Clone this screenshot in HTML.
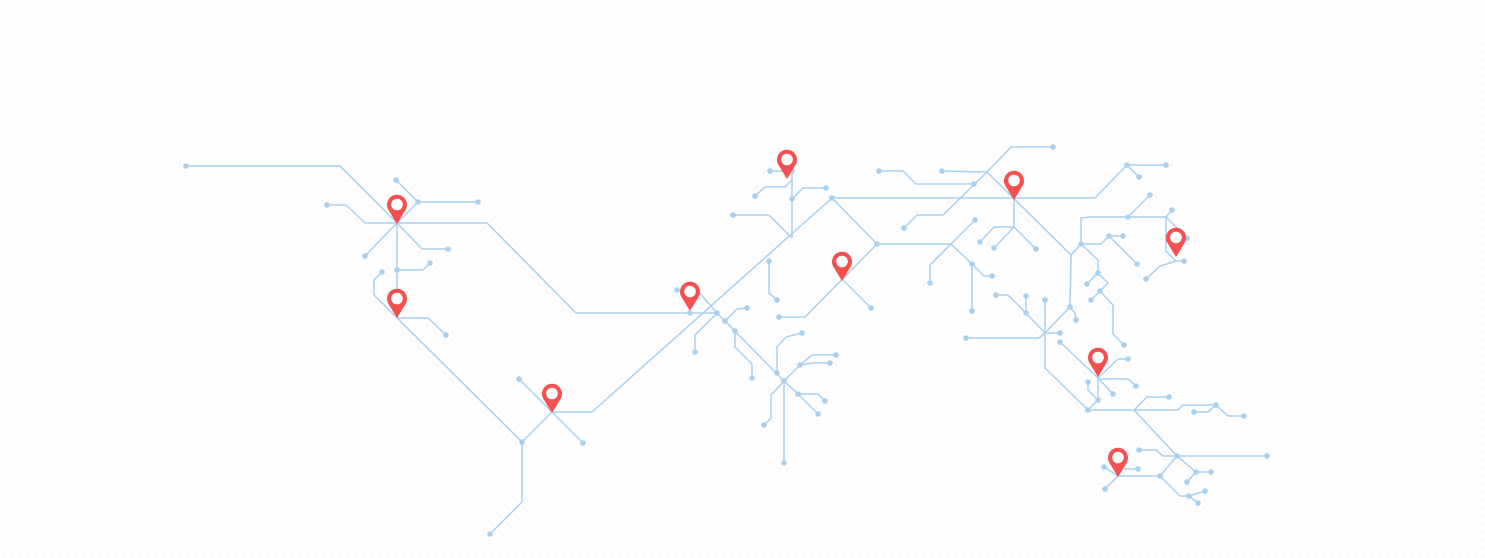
<!DOCTYPE html>
<html><head><meta charset="utf-8"><style>
html,body{margin:0;padding:0;background:#fff;}
svg{display:block}
</style></head><body>
<svg width="1485" height="558" viewBox="0 0 1485 558" xmlns="http://www.w3.org/2000/svg">
<defs>
<pattern id="bg" width="8" height="8" patternUnits="userSpaceOnUse"><circle cx="4" cy="4" r="1.3" fill="#f4f4f4"/></pattern>
<g id="pin"><path d="M0,0 L-8.2,-13.5 A10,10 0 1 1 8.2,-13.5 Z" fill="#f5504f"/><circle cx="0" cy="-19.5" r="5.8" fill="#fff"/></g>
</defs>
<rect width="1485" height="558" fill="#fefefe"/>
<rect x="0" y="40" width="1485" height="518" fill="url(#bg)" opacity="0.6"/>
<g fill="none" stroke="#a9d1ef" stroke-width="1.5" stroke-linejoin="round">
<polyline points="186,166 340,166 397,223"/>
<polyline points="396,180 418,202 478,202"/>
<polyline points="418,202 397,223"/>
<polyline points="327,205 346,205 365,223 487,223 576,313 717,313"/>
<polyline points="397,223 365,256"/>
<polyline points="397,223 422,249 448,249"/>
<polyline points="397,223 397,318"/>
<polyline points="397,270 423,270 430,263"/>
<polyline points="382,272 374,280 374,295 522,442"/>
<polyline points="397,318 428,318 446,335"/>
<polyline points="519,379 583,443"/>
<polyline points="522,442 552,412 592,412 832,198"/>
<polyline points="522,442 522,502 490,534"/>
<polyline points="770,171 792,171 792,238"/>
<polyline points="792,199 803,188 826,188"/>
<polyline points="755,196 765,187 785,187 792,180"/>
<polyline points="733,215 769,215 792,238"/>
<polyline points="832,198 1095,198 1127,165 1166,165"/>
<polyline points="1127,165 1139,177"/>
<polyline points="832,198 877,244 951,244"/>
<polyline points="769,261 769,293 777,300"/>
<polyline points="877,244 805,317 779,317"/>
<polyline points="842,279 871,308"/>
<polyline points="677,290 697,290 717,313 695,335 695,352"/>
<polyline points="725,321 737,309 747,308"/>
<polyline points="725,321 735,331 735,347 752,364 752,378"/>
<polyline points="717,313 784,381"/>
<polyline points="777,373 777,347 786,337 802,333"/>
<polyline points="784,381 800,365 812,355 836,355"/>
<polyline points="800,365 812,363 830,363"/>
<polyline points="784,381 798,394 818,394 825,401"/>
<polyline points="798,394 818,414"/>
<polyline points="784,381 771,395 771,418 764,425"/>
<polyline points="784,381 784,463"/>
<polyline points="951,244 975,220"/>
<polyline points="951,244 930,265 930,283"/>
<polyline points="951,244 972,264 984,276 992,276"/>
<polyline points="972,264 972,311"/>
<polyline points="879,171 903,171 916,184 974,184"/>
<polyline points="942,171 987,172"/>
<polyline points="1053,147 1011,147 987,172 943,215 917,215 904,228"/>
<polyline points="987,172 1071,255"/>
<polyline points="1014,198 1014,227 994,227 980,242"/>
<polyline points="1014,227 994,248"/>
<polyline points="1014,227 1036,249"/>
<polyline points="966,338 1039,338 1045,333"/>
<polyline points="1045,333 1045,300"/>
<polyline points="1045,333 1060,333"/>
<polyline points="1045,333 1070,307 1071,255"/>
<polyline points="1070,307 1075,313 1076,320"/>
<polyline points="1045,333 1026,313 1008,295 996,295"/>
<polyline points="1026,313 1026,296"/>
<polyline points="1045,333 1045,368 1088,410 1134,410 1177,456 1267,456"/>
<polyline points="1060,342 1098,378 1098,400 1088,410"/>
<polyline points="1098,379 1128,379 1136,386"/>
<polyline points="1098,378 1118,359 1128,359"/>
<polyline points="1098,378 1113,394"/>
<polyline points="1098,400 1088,390 1088,382"/>
<polyline points="1134,410 1147,397 1169,397"/>
<polyline points="1134,410 1178,410 1183,405 1216,405 1228,416 1244,416"/>
<polyline points="1216,405 1208,412 1194,412"/>
<polyline points="1139,450 1156,450 1163,456 1177,456"/>
<polyline points="1177,456 1196,472 1211,472"/>
<polyline points="1196,472 1187,482"/>
<polyline points="1177,456 1160,476 1118,476 1105,489"/>
<polyline points="1160,476 1180,496 1189,496 1205,491"/>
<polyline points="1189,496 1198,503"/>
<polyline points="1104,467 1118,476"/>
<polyline points="1120,469 1138,469"/>
<polyline points="1071,255 1081,244 1081,218 1092,217 1166,217"/>
<polyline points="1128,217 1150,195"/>
<polyline points="1166,217 1172,210"/>
<polyline points="1166,217 1166,251 1176,261 1184,261"/>
<polyline points="1166,217 1187,238"/>
<polyline points="1176,261 1160,266 1146,279"/>
<polyline points="1081,244 1101,244 1109,236 1123,236"/>
<polyline points="1109,236 1137,264"/>
<polyline points="1081,244 1098,260 1098,273 1087,284"/>
<polyline points="1098,273 1108,283 1100,291 1091,300"/>
<polyline points="1100,291 1113,305 1113,334 1124,345"/>
</g>
<g fill="#a9d1ef">
<circle cx="186" cy="166" r="2.8"/><circle cx="396" cy="180" r="2.8"/><circle cx="418" cy="202" r="2.8"/><circle cx="478" cy="202" r="2.8"/>
<circle cx="327" cy="205" r="2.8"/><circle cx="365" cy="256" r="2.8"/><circle cx="448" cy="249" r="2.8"/><circle cx="397" cy="270" r="2.8"/>
<circle cx="430" cy="263" r="2.8"/><circle cx="382" cy="272" r="2.8"/><circle cx="446" cy="335" r="2.8"/><circle cx="519" cy="379" r="2.8"/>
<circle cx="583" cy="443" r="2.8"/><circle cx="522" cy="442" r="2.8"/><circle cx="490" cy="534" r="2.8"/>
<circle cx="770" cy="171" r="2.8"/><circle cx="792" cy="171" r="2.8"/><circle cx="792" cy="199" r="2.8"/><circle cx="826" cy="188" r="2.8"/>
<circle cx="755" cy="196" r="2.8"/><circle cx="733" cy="215" r="2.8"/><circle cx="832" cy="198" r="2.8"/><circle cx="877" cy="244" r="2.8"/>
<circle cx="769" cy="261" r="2.8"/><circle cx="777" cy="300" r="2.8"/><circle cx="779" cy="317" r="2.8"/><circle cx="871" cy="308" r="2.8"/>
<circle cx="677" cy="290" r="2.8"/><circle cx="690" cy="313" r="2.8"/><circle cx="717" cy="313" r="2.8"/><circle cx="695" cy="352" r="2.8"/><circle cx="725" cy="321" r="2.8"/>
<circle cx="747" cy="308" r="2.8"/><circle cx="735" cy="331" r="2.8"/><circle cx="752" cy="378" r="2.8"/><circle cx="777" cy="373" r="2.8"/>
<circle cx="784" cy="381" r="2.8"/><circle cx="802" cy="333" r="2.8"/><circle cx="800" cy="365" r="2.8"/><circle cx="836" cy="355" r="2.8"/>
<circle cx="830" cy="363" r="2.8"/><circle cx="798" cy="394" r="2.8"/><circle cx="825" cy="401" r="2.8"/><circle cx="818" cy="414" r="2.8"/>
<circle cx="764" cy="425" r="2.8"/><circle cx="784" cy="463" r="2.8"/>
<circle cx="975" cy="220" r="2.8"/><circle cx="930" cy="283" r="2.8"/><circle cx="972" cy="264" r="2.8"/><circle cx="992" cy="276" r="2.8"/>
<circle cx="972" cy="311" r="2.8"/><circle cx="879" cy="171" r="2.8"/><circle cx="974" cy="184" r="2.8"/><circle cx="942" cy="171" r="2.8"/>
<circle cx="1053" cy="147" r="2.8"/><circle cx="904" cy="228" r="2.8"/><circle cx="980" cy="242" r="2.8"/><circle cx="994" cy="248" r="2.8"/>
<circle cx="1036" cy="249" r="2.8"/><circle cx="966" cy="338" r="2.8"/><circle cx="1045" cy="300" r="2.8"/><circle cx="1060" cy="333" r="2.8"/>
<circle cx="1070" cy="307" r="2.8"/><circle cx="1076" cy="320" r="2.8"/><circle cx="1026" cy="313" r="2.8"/><circle cx="996" cy="295" r="2.8"/>
<circle cx="1026" cy="296" r="2.8"/><circle cx="1088" cy="410" r="2.8"/><circle cx="1267" cy="456" r="2.8"/><circle cx="1060" cy="342" r="2.8"/>
<circle cx="1098" cy="400" r="2.8"/><circle cx="1136" cy="386" r="2.8"/><circle cx="1128" cy="359" r="2.8"/><circle cx="1113" cy="394" r="2.8"/>
<circle cx="1088" cy="382" r="2.8"/><circle cx="1169" cy="397" r="2.8"/><circle cx="1216" cy="405" r="2.8"/><circle cx="1244" cy="416" r="2.8"/>
<circle cx="1194" cy="412" r="2.8"/><circle cx="1139" cy="450" r="2.8"/><circle cx="1177" cy="456" r="2.8"/><circle cx="1196" cy="472" r="2.8"/>
<circle cx="1211" cy="472" r="2.8"/><circle cx="1187" cy="482" r="2.8"/><circle cx="1160" cy="476" r="2.8"/><circle cx="1105" cy="489" r="2.8"/>
<circle cx="1189" cy="496" r="2.8"/><circle cx="1205" cy="491" r="2.8"/><circle cx="1198" cy="503" r="2.8"/><circle cx="1104" cy="467" r="2.8"/>
<circle cx="1138" cy="469" r="2.8"/><circle cx="1081" cy="244" r="2.8"/><circle cx="1128" cy="217" r="2.8"/><circle cx="1150" cy="195" r="2.8"/>
<circle cx="1172" cy="210" r="2.8"/><circle cx="1184" cy="261" r="2.8"/><circle cx="1187" cy="238" r="2.8"/><circle cx="1146" cy="279" r="2.8"/>
<circle cx="1109" cy="236" r="2.8"/><circle cx="1123" cy="236" r="2.8"/><circle cx="1137" cy="264" r="2.8"/><circle cx="1098" cy="273" r="2.8"/>
<circle cx="1087" cy="284" r="2.8"/><circle cx="1100" cy="291" r="2.8"/><circle cx="1091" cy="300" r="2.8"/><circle cx="1124" cy="345" r="2.8"/>
<circle cx="1127" cy="165" r="2.8"/><circle cx="1166" cy="165" r="2.8"/><circle cx="1139" cy="177" r="2.8"/>
</g>
<use href="#pin" x="397" y="224"/>
<use href="#pin" x="397" y="318"/>
<use href="#pin" x="552" y="413"/>
<use href="#pin" x="690" y="311"/>
<use href="#pin" x="787" y="179"/>
<use href="#pin" x="842" y="281"/>
<use href="#pin" x="1014" y="200"/>
<use href="#pin" x="1176" y="257"/>
<use href="#pin" x="1098" y="377"/>
<use href="#pin" x="1118" y="477"/>
</svg>
</body></html>
